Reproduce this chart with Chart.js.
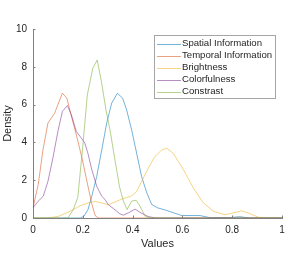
<html lang="">
<head>
    <title>Density chart</title>
    <script src="https://cdn.jsdelivr.net/npm/chart.js@4.4.0/dist/chart.umd.min.js"></script>
    <style>
        body { margin: 0; background: #fff; }
        #wrap { width: 303px; height: 263px; }
    </style>
</head>
<body>
<div id="wrap">
    <canvas id="density-chart" width="303" height="263"></canvas>
</div>
<script>
    // series (x, density)
    const seriesNames = ['Spatial Information', 'Temporal Information', 'Brightness', 'Colorfulness', 'Constrast'];

    const spatialX = [0, 0.19, 0.205, 0.221, 0.236, 0.256, 0.276, 0.296, 0.316, 0.339, 0.36, 0.376, 0.396, 0.416, 0.436, 0.457, 0.477, 0.5, 0.537, 0.597, 0.67, 0.71, 0.79, 0.83, 0.87, 1];
    const spatialY = [0, 0, 0.1, 0.45, 1.15, 2.2, 3.6, 5.02, 6.08, 6.6, 6.34, 5.72, 4.67, 3.44, 2.2, 1.33, 0.71, 0.54, 0.4, 0.13, 0.13, 0.02, 0.02, 0.07, 0, 0];

    const temporalX = [0, 0.021, 0.04, 0.06, 0.087, 0.1, 0.118, 0.136, 0.152, 0.175, 0.198, 0.218, 0.236, 0.25, 0.262, 1];
    const temporalY = [0.54, 1.77, 3.6, 5.02, 5.55, 6.0, 6.6, 6.34, 5.5, 4.35, 3.1, 1.85, 0.75, 0.12, 0, 0];

    const brightnessX = [0, 0.06, 0.1, 0.14, 0.19, 0.221, 0.25, 0.275, 0.302, 0.33, 0.356, 0.396, 0.416, 0.436, 0.463, 0.49, 0.517, 0.537, 0.563, 0.604, 0.644, 0.684, 0.724, 0.771, 0.804, 0.838, 0.87, 0.905, 0.94, 1];
    const brightnessY = [0, 0, 0.08, 0.3, 0.65, 0.8, 0.88, 0.8, 0.7, 0.85, 1.0, 1.17, 1.4, 1.93, 2.64, 3.26, 3.6, 3.69, 3.43, 2.56, 1.59, 0.8, 0.36, 0.17, 0.27, 0.38, 0.24, 0.04, 0, 0];

    const colorfulnessX = [0, 0.021, 0.041, 0.06, 0.08, 0.1, 0.118, 0.138, 0.154, 0.174, 0.194, 0.208, 0.221, 0.236, 0.256, 0.276, 0.289, 0.302, 0.323, 0.349, 0.363, 0.383, 0.41, 0.436, 0.463, 0.49, 1];
    const colorfulnessY = [0.54, 0.89, 1.15, 1.94, 3.18, 4.58, 5.64, 5.95, 5.46, 4.58, 4.23, 3.97, 3.4, 2.56, 1.68, 1.15, 0.98, 0.71, 0.5, 0.22, 0.15, 0.27, 0.47, 0.25, 0.08, 0, 0];

    const contrastX = [0, 0.14, 0.162, 0.18, 0.2, 0.218, 0.24, 0.258, 0.276, 0.293, 0.309, 0.329, 0.347, 0.363, 0.378, 0.396, 0.414, 0.43, 0.45, 0.47, 1];
    const contrastY = [0, 0, 0.45, 1.1, 3.8, 6.5, 7.92, 8.36, 7.13, 5.72, 4.67, 3.09, 1.68, 0.89, 0.45, 0.89, 0.94, 0.62, 0.1, 0, 0];

    const xTicks = [0, 0.2, 0.4, 0.6, 0.8, 1];
    const yTicks = [0, 2, 4, 6, 8, 10];

    const lineColors = [
        'rgba(0,114,189,0.55)',
        'rgba(217,83,25,0.55)',
        'rgba(237,177,32,0.55)',
        'rgba(126,47,142,0.55)',
        'rgba(119,172,48,0.55)'
    ];
    const textColor = '#262626';
    const axisColor = '#808080';
    const font = 'Liberation Sans, Arial, Helvetica, sans-serif';

    function toPoints(xs, ys) {
        return xs.map((x, i) => ({x: x, y: ys[i]}));
    }

    const allSeries = [
        toPoints(spatialX, spatialY),
        toPoints(temporalX, temporalY),
        toPoints(brightnessX, brightnessY),
        toPoints(colorfulnessX, colorfulnessY),
        toPoints(contrastX, contrastY)
    ];

    // MATLAB style ticks that point into the axes
    const inwardTicks = {
        id: 'inwardTicks',
        afterDraw(chart) {
            const ctx = chart.ctx;
            const xs = chart.scales.x, ys = chart.scales.y;
            ctx.save();
            ctx.strokeStyle = axisColor;
            ctx.lineWidth = 1;
            ctx.beginPath();
            xTicks.forEach(v => {
                const px = Math.round(xs.getPixelForValue(v)) + 0.5;
                ctx.moveTo(px, ys.bottom);
                ctx.lineTo(px, ys.bottom - 2.5);
            });
            yTicks.forEach(v => {
                const py = Math.round(ys.getPixelForValue(v)) + 0.5;
                ctx.moveTo(xs.left, py);
                ctx.lineTo(xs.left + 2.5, py);
            });
            ctx.stroke();
            ctx.restore();
        }
    };

    // boxed legend in the upper right corner
    const boxLegend = {
        id: 'boxLegend',
        afterDraw(chart) {
            const ctx = chart.ctx;
            const left = 154.5, top = 35.5, w = 121, h = 63;
            ctx.save();
            ctx.fillStyle = '#fff';
            ctx.fillRect(left, top, w, h);
            ctx.strokeStyle = '#a6a6a6';
            ctx.lineWidth = 1;
            ctx.strokeRect(left, top, w, h);
            ctx.font = '9.6px ' + font;
            ctx.textBaseline = 'middle';
            ctx.textAlign = 'left';
            chart.data.datasets.forEach((ds, i) => {
                const y = 43.5 + i * 12.05;
                ctx.strokeStyle = ds.borderColor;
                ctx.beginPath();
                ctx.moveTo(157, Math.round(y) + 0.5);
                ctx.lineTo(181, Math.round(y) + 0.5);
                ctx.stroke();
                ctx.fillStyle = textColor;
                ctx.fillText(ds.label, 182, y);
            });
            ctx.restore();
        }
    };

    let chart = new Chart(document.getElementById('density-chart'), {
        type: 'line',
        data: {
            datasets: allSeries.map((pts, i) => ({
                label: seriesNames[i],
                data: pts,
                borderColor: lineColors[i],
                borderWidth: 1,
                pointRadius: 0,
                tension: 0,
                fill: false,
                order: 5 - i
            }))
        },
        options: {
            responsive: false,
            animation: false,
            layout: {padding: {left: 0, right: 21, top: 29, bottom: 0}},
            plugins: {
                legend: {display: false},
                tooltip: {enabled: false}
            },
            scales: {
                x: {
                    type: 'linear',
                    min: 0,
                    max: 1,
                    afterBuildTicks: scale => { scale.ticks = xTicks.map(v => ({value: v})); },
                    afterFit: scale => { scale.height = 45; },
                    grid: {drawOnChartArea: false, drawTicks: false},
                    border: {display: true, color: axisColor},
                    ticks: {
                        padding: 6,
                        color: textColor,
                        font: {family: font, size: 10},
                        maxRotation: 0,
                        callback: v => String(v)
                    },
                    title: {
                        display: true,
                        text: 'Values',
                        color: textColor,
                        font: {family: font, size: 11},
                        padding: {top: 12, bottom: 12}
                    }
                },
                y: {
                    min: 0,
                    max: 10,
                    afterBuildTicks: scale => { scale.ticks = yTicks.map(v => ({value: v})); },
                    afterFit: scale => { scale.width = 33; },
                    grid: {drawOnChartArea: false, drawTicks: false},
                    border: {display: true, color: axisColor},
                    ticks: {
                        padding: 6,
                        color: textColor,
                        font: {family: font, size: 10}
                    },
                    title: {
                        display: true,
                        text: 'Density',
                        color: textColor,
                        font: {family: font, size: 11},
                        padding: {top: 1, bottom: 1}
                    }
                }
            }
        },
        plugins: [inwardTicks, boxLegend]
    });
</script>
</body>
</html>
